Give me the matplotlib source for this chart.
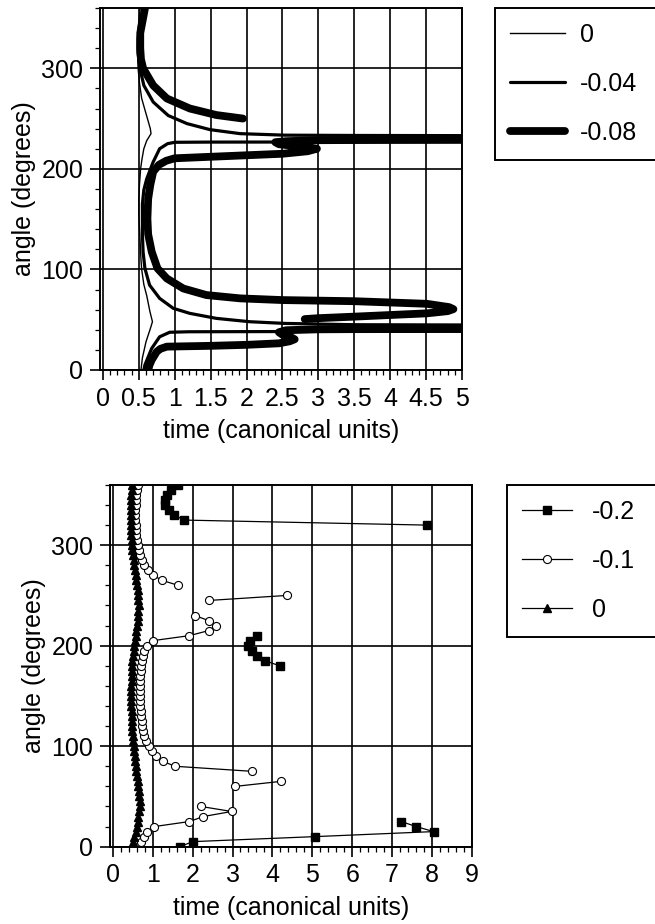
import numpy as np
import matplotlib
matplotlib.use("Agg")
import matplotlib.pyplot as plt
from matplotlib.ticker import MultipleLocator

plt.rcParams['font.family'] = ['Liberation Sans', 'DejaVu Sans']
plt.rcParams['font.size'] = 18

nan = np.nan

# ---- top panel: angle vs time for three parameter values (segments) ----
# "0" curve (thin), continuous
thin_ang = [360, 340, 320, 300, 285, 270, 255, 240, 235, 228, 220, 210, 200, 185,
            170, 155, 140, 125, 110, 100, 85, 74, 58, 48, 41, 28, 12, 0]
thin_t = [0.52, 0.49, 0.48, 0.49, 0.51, 0.54, 0.60, 0.66, 0.67, 0.61, 0.57, 0.545,
          0.525, 0.51, 0.50, 0.50, 0.51, 0.52, 0.53, 0.54, 0.57, 0.61, 0.655, 0.69,
          0.66, 0.60, 0.55, 0.53]

# "-0.04" curve (medium), three pieces
med1_ang = [360, 345, 330, 315, 300, 283, 266.5, 253, 245, 239, 235, 233.5, 233.2, 233]
med1_t = [0.57, 0.52, 0.49, 0.49, 0.515, 0.57, 0.70, 0.91, 1.17, 1.49, 1.91, 2.53, 3.5, 5.3]
med2_ang = [226.8, 226.7, 226.6, 226.4, 225, 220, 206.8, 190, 179, 165, 150, 135, 117,
            101, 84.4, 71.2, 61.3, 56.3, 51.3, 48, 46.3, 45, 44.7]
med2_t = [5.3, 3.0, 1.5, 1.0, 0.9, 0.79, 0.70, 0.61, 0.57, 0.55, 0.55, 0.55, 0.56,
          0.585, 0.65, 0.79, 0.98, 1.21, 1.58, 2.04, 2.53, 3.5, 5.3]
med3_ang = [38.5, 38.2, 38, 37.5, 33, 21.5, 5, 0]
med3_t = [5.3, 2.5, 1.2, 0.93, 0.79, 0.68, 0.585, 0.57]

# "-0.08" curve (thick), three pieces
thk1_ang = [359.5, 350, 335, 320, 309, 300, 283, 270, 260, 253.5, 250]
thk1_t = [0.585, 0.56, 0.52, 0.52, 0.53, 0.56, 0.70, 0.89, 1.21, 1.58, 1.95]
thk2_ang = [229, 228.8, 228.5, 227.5, 226.5, 224.5, 222.5, 220, 217.5, 215, 213.5, 212,
            210.5, 208, 204, 197, 184, 170, 150.6, 135, 117.5, 101, 91, 81, 74.5,
            71.2, 69.5, 68.4, 65.8, 62.5, 60.5, 58.5, 56.3, 53, 51.5, 50.6]
thk2_t = [5.3, 4.0, 3.0, 2.55, 2.4, 2.45, 2.7, 2.98, 2.85, 2.5, 2.0, 1.5, 1.0, 0.88,
          0.78, 0.70, 0.66, 0.63, 0.62, 0.63, 0.68, 0.76, 0.89, 1.12, 1.44, 1.91,
          2.5, 3.49, 4.51, 4.82, 4.88, 4.8, 4.51, 3.49, 3.0, 2.81]
thk3_ang = [41, 40.8, 40.5, 39.5, 37.5, 35, 32.5, 30.5, 28.5, 26.5, 25, 24, 23.2, 21,
            18.2, 10, 5, 0]
thk3_t = [5.3, 4.0, 3.0, 2.55, 2.45, 2.5, 2.62, 2.67, 2.6, 2.45, 2.0, 1.5, 0.89, 0.8,
          0.75, 0.68, 0.65, 0.63]

# ---- bottom panel: sampled every 5 degrees ----
ang5 = np.arange(0, 361, 5)
tri_t = [0.49, 0.51, 0.54, 0.57, 0.60, 0.62, 0.64, 0.66, 0.67, 0.67, 0.66, 0.65, 0.64,
         0.62, 0.61, 0.59, 0.58, 0.56, 0.55, 0.54, 0.52, 0.51, 0.50, 0.49, 0.48, 0.48,
         0.47, 0.47, 0.46, 0.46, 0.46, 0.46, 0.46, 0.47, 0.47, 0.48, 0.48, 0.49, 0.51,
         0.52, 0.54, 0.55, 0.57, 0.59, 0.61, 0.62, 0.63, 0.64, 0.645, 0.64, 0.63, 0.62,
         0.60, 0.58, 0.57, 0.55, 0.53, 0.52, 0.50, 0.49, 0.48, 0.47, 0.46, 0.46, 0.45,
         0.45, 0.45, 0.45, 0.45, 0.46, 0.46, 0.47, 0.47]
circ_t = [0.64, 0.70, 0.78, 0.85, 1.04, 1.92, 2.27, 2.98, 2.21, nan, nan, nan, 3.07,
          4.22, nan, 3.48, 1.56, 1.25, 1.08, 0.98, 0.90, 0.84, 0.79, 0.76, 0.74, 0.72,
          0.71, 0.70, 0.69, 0.68, 0.68, 0.68, 0.68, 0.68, 0.69, 0.70, 0.71, 0.73, 0.76,
          0.79, 0.85, 1.00, 1.92, 2.40, 2.59, 2.40, 2.06, nan, nan, 2.40, 4.36, nan,
          1.64, 1.24, 1.01, 0.89, 0.78, 0.72, 0.68, 0.65, 0.63, 0.61, 0.59, 0.58, 0.57,
          0.56, 0.56, 0.56, 0.57, 0.57, 0.58, 0.60, 0.62]
sq_t = [1.69, 2.0, 5.07, 8.04, 7.6, 7.23] + [nan] * 30 + \
       [4.18, 3.82, 3.61, 3.48, 3.40, 3.44, 3.61] + [nan] * 21 + \
       [7.88, 1.79, 1.54, 1.40, 1.31, 1.31, 1.36, 1.45, 1.63]

fig = plt.figure(figsize=(6.55, 9.24), dpi=100)


def style_axes(ax, xmax, xmajor, xminor, xlo):
    ax.set_xlim(xlo, xmax)
    ax.set_ylim(0, 360)
    ax.xaxis.set_major_locator(MultipleLocator(xmajor))
    ax.xaxis.set_minor_locator(MultipleLocator(xminor))
    ax.yaxis.set_major_locator(MultipleLocator(100))
    ax.yaxis.set_minor_locator(MultipleLocator(20))
    ax.grid(True, which='major', color='black', linewidth=1.2)
    ax.set_axisbelow(True)
    ax.tick_params(which='major', direction='out', length=7, width=1.2, pad=5)
    ax.tick_params(which='minor', direction='out', length=3.5, width=0.9)
    for s in ax.spines.values():
        s.set_linewidth(1.4)
    ax.set_xlabel('time (canonical units)', fontsize=18, labelpad=6)
    ax.set_ylabel('angle (degrees)', fontsize=18, labelpad=4)


# top panel
ax1 = fig.add_axes([0.1527, 0.5996, 0.5527, 0.3918])
l0, = ax1.plot(thin_t, thin_ang, color='black', lw=1.0)
l1, = ax1.plot(med1_t, med1_ang, color='black', lw=2.3, solid_capstyle='round')
ax1.plot(med2_t, med2_ang, color='black', lw=2.3, solid_capstyle='round')
ax1.plot(med3_t, med3_ang, color='black', lw=2.3, solid_capstyle='round')
l2, = ax1.plot(thk1_t, thk1_ang, color='black', lw=5.6, solid_capstyle='round')
ax1.plot(thk2_t, thk2_ang, color='black', lw=5.6, solid_capstyle='round',
         solid_joinstyle='round')
ax1.plot(thk3_t, thk3_ang, color='black', lw=5.6, solid_capstyle='round',
         solid_joinstyle='round')
style_axes(ax1, 5, 0.5, 0.1, -0.04)
ax1.set_xticks(np.arange(0, 5.01, 0.5))
ax1.set_xticklabels(['0', '0.5', '1', '1.5', '2', '2.5', '3', '3.5', '4', '4.5', '5'])

leg1 = fig.legend([l0, l1, l2], ['0', '-0.04', '-0.08'],
                  bbox_to_anchor=(495 / 655, 1 - 157 / 924, 0.5, 149 / 924),
                  loc='upper left', mode='expand', borderaxespad=0,
                  fancybox=False, edgecolor='black', framealpha=1,
                  fontsize=18, handlelength=2.2, handletextpad=0.6,
                  labelspacing=1.0, borderpad=0.6)
leg1.get_frame().set_linewidth(1.4)

# bottom panel
ax2 = fig.add_axes([0.1679, 0.0837, 0.5527, 0.3915])
m2, = ax2.plot(sq_t, ang5, color='black', lw=0.9, marker='s', ms=6, mfc='black',
               mec='black')
m1, = ax2.plot(circ_t, ang5, color='black', lw=0.9, marker='o', ms=5.8, mfc='white',
               mec='black', mew=0.8)
m0, = ax2.plot(tri_t, ang5, color='black', lw=0.9, marker='^', ms=5.5, mfc='black',
               mec='black')
style_axes(ax2, 9, 1, 0.2, -0.07)

leg2 = fig.legend([m2, m1, m0], ['-0.2', '-0.1', '0'],
                  bbox_to_anchor=(507 / 655, 1 - 635 / 924, 0.5, 150 / 924),
                  loc='upper left', mode='expand', borderaxespad=0,
                  fancybox=False, edgecolor='black', framealpha=1,
                  fontsize=18, handlelength=2.0, handletextpad=0.8,
                  labelspacing=1.0, borderpad=0.6)
leg2.get_frame().set_linewidth(1.4)

fig.savefig('out.png', dpi=100)
